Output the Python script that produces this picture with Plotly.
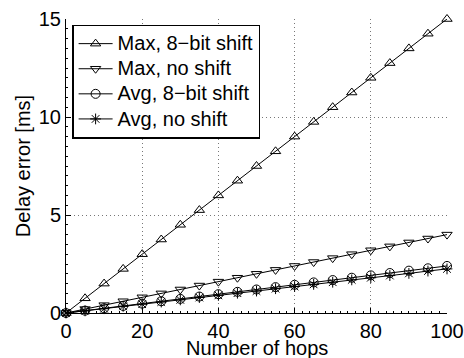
import plotly.graph_objects as go

hops = [0, 5, 10, 15, 20, 25, 30, 35, 40, 45, 50, 55, 60, 65, 70, 75, 80, 85, 90, 95, 100]
max_8bit = [0, 0.75, 1.5, 2.25, 3.0, 3.75, 4.5, 5.25, 6.0, 6.75, 7.5, 8.25, 9.0, 9.75, 10.5, 11.25, 12.0, 12.75, 13.5, 14.25, 15.0]
max_noshift = [0, 0.2, 0.4, 0.6, 0.8, 1.0, 1.2, 1.4, 1.6, 1.8, 2.0, 2.2, 2.4, 2.6, 2.8, 3.0, 3.2, 3.4, 3.6, 3.8, 4.0]
avg_8bit = [0, 0.12, 0.24, 0.36, 0.48, 0.6, 0.72, 0.84, 0.96, 1.08, 1.2, 1.32, 1.44, 1.56, 1.68, 1.8, 1.92, 2.04, 2.16, 2.28, 2.4]
avg_noshift = [0, 0.11, 0.22, 0.34, 0.45, 0.56, 0.67, 0.79, 0.9, 1.01, 1.12, 1.24, 1.35, 1.46, 1.57, 1.69, 1.8, 1.91, 2.02, 2.14, 2.25]

names = ["Max, 8\u2212bit shift", "Max, no shift", "Avg, 8\u2212bit shift", "Avg, no shift"]
series = [max_8bit, max_noshift, avg_8bit, avg_noshift]
symbols = ["triangle-up-open", "triangle-down-open", "circle-open", "asterisk-open"]
x_title = "Number of hops"
y_title = "Delay error [ms]"

fig = go.Figure()
for name, ys, sym in zip(names, series, symbols):
    fig.add_trace(go.Scatter(
        x=hops, y=ys, name='<span style="font-size:20px">' + name + '</span>',
        mode="lines+markers",
        line=dict(color="black", width=1),
        marker=dict(symbol=sym, size=9, color="black", line=dict(color="black", width=1)),
        cliponaxis=False,
    ))

fig.update_layout(
    width=464, height=358,
    margin=dict(l=66, r=17, t=19, b=45),
    paper_bgcolor="white", plot_bgcolor="white",
    font=dict(family="Liberation Sans, Arial, sans-serif", color="black", size=20),
    showlegend=True,
    legend=dict(
        x=0.016, y=0.981, xanchor="left", yanchor="top",
        bordercolor="black", borderwidth=1.5, bgcolor="white",
        font=dict(size=17), itemwidth=34, tracegroupgap=0,
    ),
    annotations=[dict(
        text=x_title, xref="paper", yref="paper", x=0.5, y=-0.12,
        xanchor="center", yanchor="middle", showarrow=False,
        font=dict(size=20, color="black"),
    )],
)
grid = dict(showgrid=True, gridcolor="#777", griddash="1px,3px", gridwidth=1,
            showline=True, linecolor="black", linewidth=1, mirror=False,
            ticks="inside", ticklen=5, tickcolor="black", zeroline=False,
            tickfont=dict(size=20), automargin=False)
fig.update_xaxes(
    range=[0, 100], tickvals=[0, 20, 40, 60, 80, 100],
    minor=dict(ticks="inside", ticklen=2, dtick=2, tickcolor="black", showgrid=False),
    **grid,
)
fig.update_yaxes(
    range=[0, 15], tickvals=[0, 5, 10, 15],
    minor=dict(ticks="inside", ticklen=2, dtick=0.5, tickcolor="black", showgrid=False),
    title=dict(text=y_title, font=dict(size=20), standoff=2),
    **grid,
)

fig.write_html("out.html", config={"displayModeBar": False},
               post_script="document.body.style.margin='0';document.body.style.padding='0';")
